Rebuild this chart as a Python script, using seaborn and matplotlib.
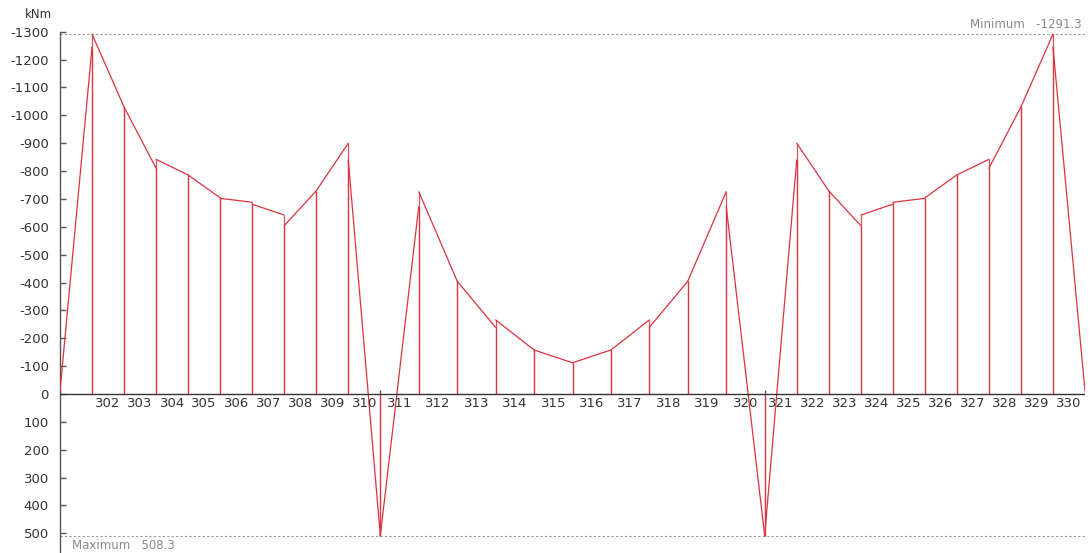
import numpy as np
import pandas as pd
import matplotlib
matplotlib.use("Agg")
import matplotlib.pyplot as plt
import seaborn as sns

# Element numbers and their lengths (m): two outer spans and a longer middle span
elements = list(range(301, 331))
lengths = [4.0] * 10 + [4.8] * 10 + [4.0] * 10

# Bending moment at the start and end of each element (kNm)
m_start = [-10, -1291.3, -1030, -842, -786, -702, -681, -604, -729, -840,
           508.3, -726, -405, -266, -158, -112, -158, -239, -405, -672,
           508.3, -900, -729, -642, -688, -704, -786, -810, -1030, -1245]
m_end = [-1245, -1030, -810, -786, -704, -688, -642, -729, -900, 508.3,
         -672, -405, -239, -158, -112, -158, -266, -405, -726, 508.3,
         -840, -729, -604, -681, -702, -786, -842, -1030, -1291.3, -10]

m_min = -1291.3
m_max = 508.3
y_ticks = list(range(-1300, 501, 100))
label_elements = elements[1:]

# Node coordinates along the beam
nodes = np.concatenate([[0.0], np.cumsum(lengths)])
x0, x1 = nodes[:-1], nodes[1:]
centers = (x0 + x1) / 2
supports = [nodes[10], nodes[20]]

rows = []
for e, a, b, ma, mb in zip(elements, x0, x1, m_start, m_end):
    rows.append({"element": e, "x": a, "M": ma})
    rows.append({"element": e, "x": b, "M": mb})
df = pd.DataFrame(rows)

sns.set_theme(style="white")
plt.rcParams["font.family"] = ["DejaVu Sans"]
plt.rcParams["axes.unicode_minus"] = False

W, H = 1090, 553
fig = plt.figure(figsize=(W / 100, H / 100), dpi=100)
left_px, right_px, top_px = 60, 1085, 31.7
ax = fig.add_axes([left_px / W, 0, (right_px - left_px) / W, (H - top_px) / H])

red = "#d9343f"

# Ordinates at every element end, drawn from the axis
ax.vlines(df["x"], 0, df["M"], color=red, lw=0.9, alpha=0.85, zorder=2)

# Moment diagram, one straight segment per element
sns.lineplot(data=df, x="x", y="M", units="element", estimator=None,
             sort=False, color=red, lw=0.9, ax=ax, legend=False, zorder=3)

# Zero line and support marks
ax.axhline(0, color="#333333", lw=1.0, zorder=4)
ax.vlines(supports, 0, -15, color="#555555", lw=1.0, zorder=4)

# Extreme values
ax.axhline(m_min, color="#999999", lw=0.8, ls=(0, (2, 2)), zorder=1)
ax.axhline(m_max, color="#999999", lw=0.8, ls=(0, (2, 2)), zorder=1)
ax.text(0.997, m_min - 12, f"Minimum   {m_min}", ha="right", va="bottom",
        fontsize=8.5, color="#8a8a8a", transform=ax.get_yaxis_transform())
ax.text(1.5, m_max + 12, f"Maximum   {m_max}", ha="left", va="top",
        fontsize=8.5, color="#8a8a8a")

ax.set_xlim(nodes[0], nodes[-1])
ax.set_ylim(570.5, -1300)

ax.set_yticks(y_ticks)
ax.set_yticklabels([str(t) for t in y_ticks])
ax.tick_params(axis="y", direction="in", length=4, width=1, color="#555555",
               labelsize=9.5, labelcolor="#333333", pad=8, left=True)

# Element numbers sit just below the zero line, centred on each element
for xc, e in zip(centers[1:], label_elements):
    ax.text(xc, 12, str(e), ha="center", va="top", fontsize=9.5, color="#333333")
ax.set_xticks([])

ax.set_xlabel("")
ax.set_ylabel("")
for s in ["top", "right", "bottom"]:
    ax.spines[s].set_visible(False)
ax.spines["left"].set_color("#555555")
ax.spines["left"].set_linewidth(1.0)

fig.text(38 / W, 1 - 14 / H, "kNm", ha="center", va="center", fontsize=8.5, color="#333333")

fig.savefig("out.png", dpi=100)
